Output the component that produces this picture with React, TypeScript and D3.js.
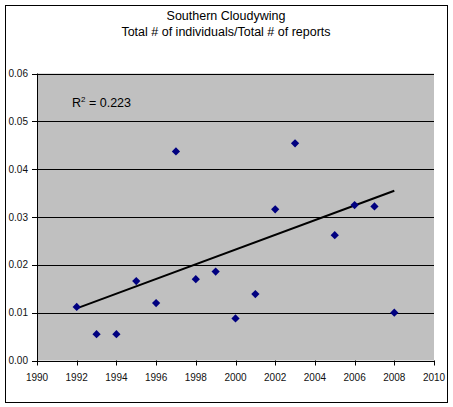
import { scaleLinear, line as d3Line, symbol as d3Symbol, symbolSquare } from "d3"

const years = [1992, 1993, 1994, 1995, 1996, 1997, 1998, 1999, 2000, 2001, 2002, 2003, 2005, 2006, 2007, 2008]
const ratios = [0.0112, 0.0055, 0.0055, 0.0166, 0.012, 0.0437, 0.017, 0.0186, 0.0088, 0.0139, 0.0316, 0.0454, 0.0262, 0.0325, 0.0322, 0.01]

const trendYears = [1992, 2008]
const trendValues = [0.0109, 0.0355]

const xTicks = [1990, 1992, 1994, 1996, 1998, 2000, 2002, 2004, 2006, 2008, 2010]
const yTicks = [0, 0.01, 0.02, 0.03, 0.04, 0.05, 0.06]

const titleLines = ["Southern Cloudywing", "Total # of individuals/Total # of reports"]
const rSquared = "0.223"

export default function App() {
  const width = 453
  const height = 407
  const plot = { left: 37, top: 73.5, right: 434, bottom: 360.5 }
  const font = "'Liberation Sans', Arial, sans-serif"

  const xScale = scaleLinear().domain([1990, 2010]).range([plot.left, plot.right])
  const yScale = scaleLinear().domain([0, 0.06]).range([plot.bottom, plot.top])

  const trendPath =
    d3Line<number>()
      .x((_, i) => xScale(trendYears[i]))
      .y((v) => yScale(v))(trendValues) ?? ""

  // rotated square = the Excel diamond marker
  const diamond = d3Symbol().type(symbolSquare).size(34)() ?? ""

  return (
    <svg width={width} height={height} style={{ position: "absolute", left: 0, top: 0, background: "#fff" }} fontFamily={font}>
      <rect x={5.5} y={5.5} width={442} height={397} fill="#fff" stroke="#000" />

      {titleLines.map((t, i) => (
        <text key={t} x={226} y={20 + i * 16} textAnchor="middle" fontSize="12.5" fill="#000">
          {t}
        </text>
      ))}

      <rect x={plot.left} y={plot.top} width={plot.right - plot.left} height={plot.bottom - plot.top} fill="#c0c0c0" />

      {yTicks.map((tick) => (
        <g key={tick}>
          {tick > 0 && (
            <line x1={plot.left} x2={plot.right} y1={Math.round(yScale(tick)) + 0.5} y2={Math.round(yScale(tick)) + 0.5} stroke="#000" />
          )}
          <line x1={plot.left - 5} x2={plot.left} y1={Math.round(yScale(tick)) + 0.5} y2={Math.round(yScale(tick)) + 0.5} stroke="#000" />
          <text x={plot.left - 9} y={yScale(tick)} dy="0.35em" textAnchor="end" fontSize="10" fill="#111">
            {tick.toFixed(2)}
          </text>
        </g>
      ))}

      <line x1={plot.left + 0.5} x2={plot.left + 0.5} y1={plot.top} y2={plot.bottom + 0.5} stroke="#000" />
      <line x1={plot.left} x2={plot.right} y1={Math.round(plot.bottom) + 0.5} y2={Math.round(plot.bottom) + 0.5} stroke="#000" />

      {xTicks.map((tick) => (
        <g key={tick}>
          <line x1={Math.round(xScale(tick)) + 0.5} x2={Math.round(xScale(tick)) + 0.5} y1={plot.bottom} y2={plot.bottom + 5} stroke="#000" />
          <text x={xScale(tick)} y={plot.bottom + 20} textAnchor="middle" fontSize="10" fill="#111">
            {tick}
          </text>
        </g>
      ))}

      <path d={trendPath} fill="none" stroke="#000" strokeWidth="2" />

      {years.map((yr, i) => (
        <path key={yr} d={diamond} transform={`translate(${xScale(yr)},${yScale(ratios[i])}) rotate(45)`} fill="#000080" />
      ))}

      <text x={72} y={107} fontSize="12.5" fill="#000">
        R<tspan dy="-5" fontSize="8">2</tspan>
        <tspan dy="5"> = {rSquared}</tspan>
      </text>
    </svg>
  )
}
